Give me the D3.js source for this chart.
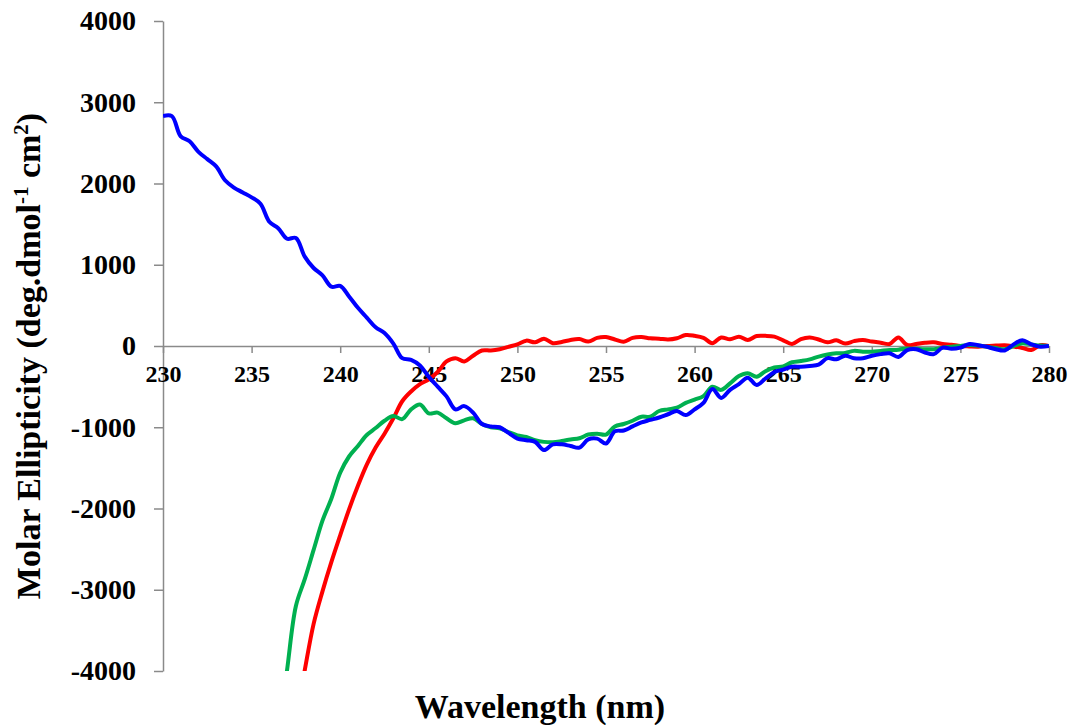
<!DOCTYPE html>
<html>
<head>
<meta charset="utf-8">
<script src="https://cdn.jsdelivr.net/npm/d3@7"></script>
<style>
  body { margin: 0; background: #fff; }
  .tick text { font-family: "Liberation Serif", "Times New Roman", serif; font-weight: bold; fill: #000; }
  .axisTitle { font-family: "Liberation Serif", "Times New Roman", serif; font-weight: bold; fill: #000; }
</style>
</head>
<body>
<div id="chart"></div>
<script>
// wavelength grid (nm), 0.5 nm steps
var wavelengths = d3.range(230, 280.01, 0.5);

// molar ellipticity (null = no data / off chart)
var blueValues = [
  2830, 2830, 2580, 2520, 2390, 2300, 2210, 2040, 1950, 1890,
  1830, 1750, 1530, 1450, 1320, 1330, 1100, 960, 870, 730,
  740, 610, 470, 350, 230, 160, 30, -150, -170, -240,
  -380, -500, -620, -780, -740, -820, -960, -990, -1000, -1070,
  -1140, -1160, -1180, -1280, -1210, -1210, -1230, -1250, -1150, -1140,
  -1200, -1050, -1040, -990, -940, -910, -880, -840, -800, -850,
  -780, -700, -530, -640, -540, -470, -390, -480, -400, -320,
  -290, -255, -255, -245, -230, -150, -164, -120, -150, -150,
  -120, -100, -90, -135, -50, -40, -80, -100, -20, -35,
  -20, 25, 10, -10, -40, -55, 20, 70, 20, -10,
  0
];

var greenValues = [
  null, null, null, null, null, null, null, null, null, null,
  null, null, null, -4800, -3990, -3200, -2870, -2510, -2150, -1880,
  -1560, -1360, -1230, -1095, -1010, -920, -862, -900, -780, -720,
  -830, -820, -890, -950, -915, -890, -960, -1000, -1013, -1060,
  -1100, -1120, -1160, -1180, -1185, -1170, -1150, -1136, -1090, -1080,
  -1090, -990, -960, -920, -870, -870, -800, -780, -760, -700,
  -660, -616, -501, -540, -460, -370, -336, -378, -310, -265,
  -250, -200, -185, -165, -130, -105, -90, -85, -60, -70,
  -70, -60, -50, -45, -30, -35, -40, -40, -20, -8,
  0, 12, 5, -10, -25, -40, 0, 33, 20, 5,
  0
];

var redValues = [
  null, null, null, null, null, null, null, null, null, null,
  null, null, null, null, null, -4600, -3990, -3420, -3020, -2660,
  -2330, -2010, -1720, -1460, -1250, -1080, -890, -680, -560, -470,
  -410, -320, -190, -150, -190, -120, -55, -55, -40, -10,
  20, 66, 45, 90, 35, 50, 75, 85, 55, 100,
  110, 80, 53, 100, 110, 94, 90, 80, 95, 135,
  125, 100, 35, 105, 82, 115, 74, 123, 125, 115,
  70, 25, 85, 105, 80, 45, 70, 30, 60, 74,
  55, 40, 25, 105, 12, 25, 40, 45, 25, 15,
  0, -5, -8, 0, 5, 10, -5, -25, -50, 10,
  0
];

var xTicks = [230, 235, 240, 245, 250, 255, 260, 265, 270, 275, 280];
var yTicks = [-4000, -3000, -2000, -1000, 0, 1000, 2000, 3000, 4000];

var svgWidth = 1072;
var svgHeight = 725;

var margin = { top: 21, right: 23, bottom: 54, left: 163 };

var width = svgWidth - margin.left - margin.right;
var height = svgHeight - margin.top - margin.bottom;

var svg = d3.select("#chart")
  .append("svg")
  .attr("width", svgWidth)
  .attr("height", svgHeight);

var chartGroup = svg.append("g")
  .attr("transform", `translate(${margin.left}, ${margin.top})`);

var xScale = d3.scaleLinear().domain([230, 280]).range([0, width]);
var yScale = d3.scaleLinear().domain([-4000, 4000]).range([height, 0]);

// axes
var leftAxis = d3.axisLeft(yScale)
  .tickValues(yTicks)
  .tickFormat(d => d)
  .tickSize(9)
  .tickSizeOuter(0)
  .tickPadding(18);

var bottomAxis = d3.axisBottom(xScale)
  .tickValues(xTicks)
  .tickFormat(d => d)
  .tickSize(7)
  .tickSizeOuter(0)
  .tickPadding(12);

var yAxisG = chartGroup.append("g").call(leftAxis);
yAxisG.selectAll("text").style("font-size", "28px");

var xAxisG = chartGroup.append("g")
  .attr("transform", `translate(0, ${yScale(0)})`)
  .call(bottomAxis);
xAxisG.selectAll("text").style("font-size", "24px");

chartGroup.selectAll(".domain, .tick line")
  .attr("stroke", "#8a8a8a")
  .attr("stroke-width", 1.5);

// clip lines to plot area
chartGroup.append("clipPath")
  .attr("id", "plotClip")
  .append("rect")
  .attr("x", 0)
  .attr("y", 0)
  .attr("width", width)
  .attr("height", height);

var series = [
  { name: "red", values: redValues, color: "#ff0000" },
  { name: "green", values: greenValues, color: "#00b050" },
  { name: "blue", values: blueValues, color: "#0000ff" }
];

var line = d3.line()
  .defined(d => d[1] !== null)
  .x(d => xScale(d[0]))
  .y(d => yScale(d[1]))
  .curve(d3.curveCatmullRom.alpha(0.5));

chartGroup.append("g")
  .attr("clip-path", "url(#plotClip)")
  .selectAll("path")
  .data(series)
  .enter()
  .append("path")
  .attr("fill", "none")
  .attr("stroke", d => d.color)
  .attr("stroke-width", 4)
  .attr("stroke-linejoin", "round")
  .attr("d", d => line(wavelengths.map((w, i) => [w, d.values[i]])));

// axis titles
svg.append("text")
  .attr("class", "axisTitle")
  .attr("x", 540)
  .attr("y", 718)
  .attr("text-anchor", "middle")
  .style("font-size", "34px")
  .text("Wavelength (nm)");

var yTitle = svg.append("text")
  .attr("class", "axisTitle")
  .attr("transform", "translate(40, 356) rotate(-90)")
  .attr("text-anchor", "middle")
  .style("font-size", "34px");

yTitle.append("tspan").text("Molar Ellipticity (deg.dmol");
yTitle.append("tspan").attr("dy", -12).style("font-size", "21px").text("-1");
yTitle.append("tspan").attr("dy", 12).text(" cm");
yTitle.append("tspan").attr("dy", -12).style("font-size", "21px").text("2");
yTitle.append("tspan").attr("dy", 12).text(")");
</script>
</body>
</html>
